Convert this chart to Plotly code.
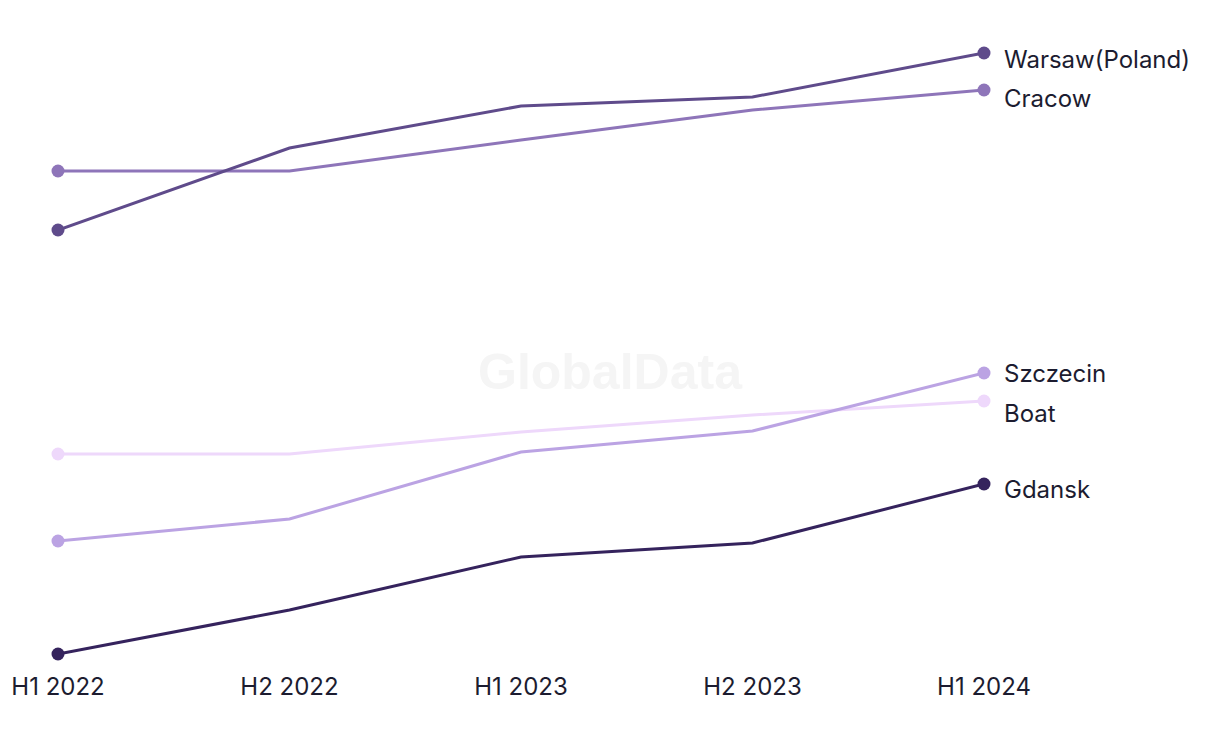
import plotly.graph_objects as go

periods = ["H1 2022", "H2 2022", "H1 2023", "H2 2023", "H1 2024"]
warsaw = [47.0, 55.2, 59.4, 60.3, 64.7]
cracow = [52.9, 52.9, 56.0, 59.0, 61.0]
szczecin = [15.9, 18.1, 24.8, 26.9, 32.7]
boat = [24.6, 24.6, 26.8, 28.5, 29.9]
gdansk = [4.6, 9.0, 14.3, 15.7, 21.6]

series = [
    ("Boat", boat, "#eed8fb", -12),
    ("Szczecin", szczecin, "#bba3e3", 0),
    ("Gdansk", gdansk, "#35235d", -5),
    ("Cracow", cracow, "#8e75b9", -8),
    ("Warsaw(Poland)", warsaw, "#5f4b8b", -6),
]

FONT = "Inter, Liberation Sans, sans-serif"
TEXT = "#1c1c30"

fig = go.Figure()
annotations = []
for name, vals, color, dy in series:
    n = len(vals)
    sizes = [13 if i in (0, n - 1) else 0 for i in range(n)]
    fig.add_trace(go.Scatter(
        x=periods, y=vals, name=name, mode="lines+markers",
        line=dict(color=color, width=3),
        marker=dict(size=sizes, color=color, opacity=1, line=dict(width=0)),
        cliponaxis=False, showlegend=False,
        hovertemplate="%{x}: %{y}<extra>" + name + "</extra>",
    ))
    annotations.append(dict(
        x=periods[-1], y=vals[-1], xref="x", yref="y", text=name,
        showarrow=False, xanchor="left", yanchor="middle",
        xshift=18, yshift=dy,
        font=dict(family=FONT, size=24, color=TEXT),
    ))

annotations.append(dict(
    x=0.5, y=0.5, xref="paper", yref="paper", text="<b>GlobalData</b>",
    showarrow=False, xanchor="center", yanchor="middle",
    xshift=89, yshift=-35,
    font=dict(family="Liberation Sans, Arial, sans-serif", size=50, color="#f5f5f5"),
))

fig.update_layout(
    width=1220, height=744,
    margin=dict(l=50, r=244, t=0, b=86),
    paper_bgcolor="white", plot_bgcolor="white",
    annotations=annotations,
    xaxis=dict(
        type="category", range=[0, 4], showgrid=False, zeroline=False,
        showline=False, ticks="", automargin=False, ticklabelstandoff=4,
        tickfont=dict(family=FONT, size=24, color=TEXT),
    ),
    yaxis=dict(range=[3.4, 69.2], visible=False, showgrid=False,
               zeroline=False, automargin=False),
)

fig.write_html("out.html")
